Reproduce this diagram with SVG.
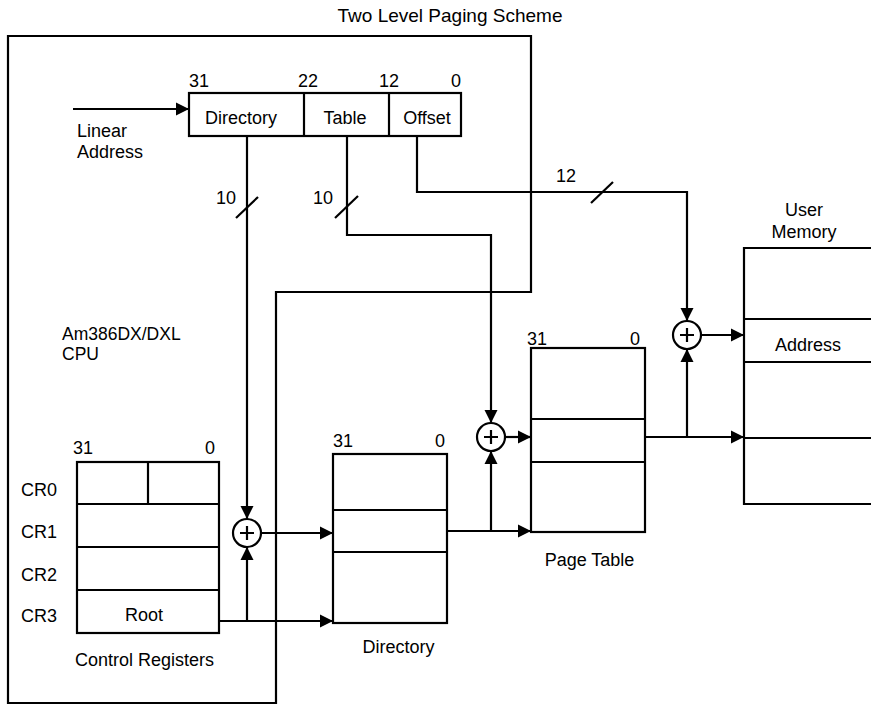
<svg xmlns="http://www.w3.org/2000/svg" width="871" height="704" viewBox="0 0 871 704">
<style>
text{font-family:"Liberation Sans",Arial,Helvetica,sans-serif;font-size:18px;fill:#000}
.t{font-size:19px}
.s{font-size:17.5px}
.m{text-anchor:middle}
.e{text-anchor:end}
.b{fill:#fff;stroke:#000;stroke-width:2.2}
.l{fill:none;stroke:#000;stroke-width:2.2}
.c{stroke:#000;stroke-width:2.2}
.a{marker-end:url(#ah)}
</style>
<defs>
<marker id="ah" markerUnits="userSpaceOnUse" markerWidth="14" markerHeight="14" refX="13" refY="7" orient="auto">
<path d="M0,0.5 L13,7 L0,13.5 z" fill="#000"/>
</marker>
</defs>
<rect width="871" height="704" fill="#fff"/>
<text class="t m" x="450" y="22">Two Level Paging Scheme</text>

<g id="cpu">
<polygon class="l" points="8,36 531,36 531,292 276,292 276,703 8,703"/>
<text class="s" x="62" y="340">Am386DX/DXL</text>
<text class="s" x="62" y="360">CPU</text>
</g>

<g id="linear-address">
<rect class="b" x="189" y="93" width="272" height="43"/>
<line class="l" x1="304" y1="93" x2="304" y2="136"/>
<line class="l" x1="389" y1="93" x2="389" y2="136"/>
<text x="189" y="87">31</text>
<text x="298" y="87">22</text>
<text x="379" y="87">12</text>
<text class="e" x="461" y="87">0</text>
<text class="m" x="241" y="124">Directory</text>
<text class="m" x="345" y="124">Table</text>
<text class="m" x="427" y="124">Offset</text>
<text x="77" y="137">Linear</text>
<text x="77" y="158">Address</text>
</g>

<g id="control-registers">
<rect class="b" x="77" y="462" width="142" height="171"/>
<line class="l" x1="77" y1="504" x2="219" y2="504"/>
<line class="l" x1="77" y1="547" x2="219" y2="547"/>
<line class="l" x1="77" y1="590" x2="219" y2="590"/>
<line class="l" x1="148" y1="462" x2="148" y2="504"/>
<text x="73" y="454">31</text>
<text class="e" x="215" y="454">0</text>
<text x="21" y="496">CR0</text>
<text x="21" y="538">CR1</text>
<text x="21" y="581">CR2</text>
<text x="21" y="622">CR3</text>
<text class="m" x="144" y="621">Root</text>
<text class="m" x="144.5" y="666">Control Registers</text>
</g>

<g id="directory">
<rect class="b" x="333" y="454" width="114" height="169"/>
<line class="l" x1="333" y1="510" x2="447" y2="510"/>
<line class="l" x1="333" y1="552" x2="447" y2="552"/>
<text x="333" y="447">31</text>
<text class="e" x="445" y="447">0</text>
<text class="m" x="398.5" y="653">Directory</text>
</g>

<g id="page-table">
<rect class="b" x="531" y="348" width="114" height="184"/>
<line class="l" x1="531" y1="419" x2="645" y2="419"/>
<line class="l" x1="531" y1="462" x2="645" y2="462"/>
<text x="527" y="345">31</text>
<text class="e" x="640" y="345">0</text>
<text class="m" x="589.5" y="566">Page Table</text>
</g>

<g id="user-memory">
<path class="l" d="M875,248 H744 V504 H875"/>
<line class="l" x1="744" y1="319" x2="875" y2="319"/>
<line class="l" x1="744" y1="362" x2="875" y2="362"/>
<line class="l" x1="744" y1="438" x2="875" y2="438"/>
<text class="m" x="804" y="216">User</text>
<text class="m" x="804" y="238">Memory</text>
<text class="m" x="808" y="351">Address</text>
</g>

<g id="adder1">
<circle class="c" cx="247" cy="533" r="14" fill="#fff"/>
<path class="l" d="M240,533 H254 M247,526 V540"/>
</g>
<g id="adder2">
<circle class="c" cx="491" cy="437" r="14" fill="#fff"/>
<path class="l" d="M484,437 H498 M491,430 V444"/>
</g>
<g id="adder3">
<circle class="c" cx="687" cy="335" r="14" fill="#fff"/>
<path class="l" d="M680,335 H694 M687,328 V342"/>
</g>

<g id="connectors">
<path class="l a" d="M73,109 H189"/>
<path class="l a" d="M247,136 V519"/>
<line class="l" x1="236" y1="218" x2="258" y2="197"/>
<text class="e" x="236" y="204">10</text>
<path class="l a" d="M219,621 H333"/>
<path class="l a" d="M247,621 V547"/>
<path class="l a" d="M261,533 H333"/>
<path class="l a" d="M347,136 V235 H491 V423"/>
<line class="l" x1="335" y1="218" x2="358" y2="196"/>
<text class="e" x="333" y="204">10</text>
<path class="l a" d="M447,531 H531"/>
<path class="l a" d="M491,531 V451"/>
<path class="l a" d="M505,437 H531"/>
<path class="l a" d="M417,136 V192 H687 V321"/>
<line class="l" x1="591" y1="203" x2="613" y2="182"/>
<text x="556" y="182">12</text>
<path class="l a" d="M645,437 H744"/>
<path class="l a" d="M687,437 V349"/>
<path class="l a" d="M701,335 H744"/>
</g>
</svg>
